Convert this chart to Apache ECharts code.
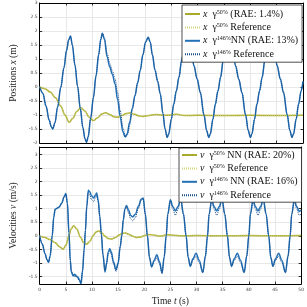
<!DOCTYPE html>
<html>
<head>
<meta charset="utf-8">
<script src="https://cdn.jsdelivr.net/npm/echarts@6/dist/echarts.min.js"></script>
<style>
  html, body { margin: 0; padding: 0; background: #fff; }
  #chart { width: 307px; height: 307px; }
</style>
</head>
<body>
<div id="chart"></div>
<script>
// positions x (m), gamma 50%  -- [t, x]
const posNN50 = [[0,0],[1,-0.06],[2,-0.18],[3,-0.38],[4,-0.68],[4.8,-1.0],[5.6,-1.26],[6.3,-1.12],[7.0,-0.88],[7.8,-0.74],[8.6,-0.86],[9.4,-1.08],[10.2,-1.2],[11.0,-1.1],[11.8,-0.96],[12.5,-0.92],[13.3,-0.98],[14.1,-1.06],[14.8,-1.08],[15.6,-1.02],[16.4,-0.95],[17.2,-0.93],[18.0,-0.97],[18.8,-1.03],[19.6,-1.05],[20.6,-1.02],[22,-0.98],[23.5,-1.01],[25,-1.0],[26,-0.97],[27.5,-1.02],[30,-1.01],[35,-1.02],[40,-1.01],[45,-1.02],[50,-1.01]];
const posRef50 = [[0,0],[1,-0.05],[2,-0.17],[3,-0.37],[4,-0.67],[4.8,-1.0],[5.6,-1.25],[6.3,-1.12],[7.0,-0.89],[7.8,-0.75],[8.6,-0.86],[9.4,-1.07],[10.2,-1.19],[11.0,-1.1],[11.8,-0.97],[12.5,-0.93],[13.3,-0.98],[14.1,-1.05],[14.8,-1.07],[15.6,-1.02],[16.4,-0.96],[17.2,-0.94],[18.0,-0.97],[18.8,-1.02],[19.6,-1.04],[20.6,-1.02],[22,-0.99],[23.5,-1.0],[25,-1.0],[26,-0.98],[27.5,-1.01],[30,-1.0],[35,-1.01],[40,-1.0],[45,-1.01],[50,-1.0]];

// positions x (m), gamma 146%
const posNN146 = [[0,0],[0.6,-0.22],[1.2,-0.68],[1.8,-1.18],[2.2,-1.42],[2.5,-1.5],[2.9,-1.28],[3.4,-0.72],[4.0,-0.02],[4.6,0.68],[5.1,1.3],[5.5,1.68],[5.85,1.82],[6.2,1.5],[6.7,0.78],[7.2,0.02],[7.7,-0.75],[8.2,-1.45],[8.6,-1.85],[8.9,-1.98],[9.2,-1.78],[9.7,-1.1],[10.2,-0.38],[10.7,0.4],[11.2,1.15],[11.6,1.7],[11.9,1.92],[12.3,1.7],[12.8,1.08],[13.3,0.72],[13.8,0.45],[14.3,0.12],[14.8,-0.45],[15.3,-1.08],[15.8,-1.6],[16.2,-1.77],[16.6,-1.68],[17.1,-1.25],[17.6,-0.75],[18.1,-0.3],[18.6,0.15],[19.1,0.6],[19.6,1.15],[20.1,1.6],[20.6,1.78],[21.0,1.6],[21.4,1.15],[21.9,0.6],[22.4,0.2],[22.9,-0.25],[23.4,-0.95],[23.8,-1.5],[24.2,-1.8],
  [24.5,-1.68],[25.0,-1.15],[25.45,-0.62],[25.95,-0.14],[26.45,0.35],[26.95,0.95],[27.5,1.58],[28.0,1.82],[28.4,1.65],[28.8,1.25],[29.3,0.75],[29.9,0.28],[30.5,-0.2],[31.2,-1.0],[31.7,-1.55],[32.1,-1.8],
  [32.4,-1.68],[32.9,-1.15],[33.35,-0.62],[33.85,-0.14],[34.35,0.35],[34.85,0.95],[35.4,1.58],[35.9,1.82],[36.3,1.65],[36.7,1.25],[37.2,0.75],[37.8,0.28],[38.4,-0.2],[39.1,-1.0],[39.6,-1.55],[40.0,-1.8],
  [40.3,-1.68],[40.8,-1.15],[41.25,-0.62],[41.75,-0.14],[42.25,0.35],[42.75,0.95],[43.3,1.58],[43.8,1.82],[44.2,1.65],[44.6,1.25],[45.1,0.75],[45.7,0.28],[46.3,-0.2],[47.0,-1.0],[47.5,-1.55],[47.9,-1.8],
  [48.2,-1.68],[48.7,-1.15],[49.15,-0.62],[49.65,-0.14],[50,0.2]];
const posRef146 = [[0,0],[0.6,-0.22],[1.2,-0.68],[1.8,-1.18],[2.2,-1.42],[2.5,-1.5],[2.9,-1.28],[3.4,-0.72],[4.0,-0.02],[4.6,0.68],[5.1,1.3],[5.5,1.68],[5.85,1.82],[6.2,1.5],[6.7,0.78],[7.2,0.02],[7.7,-0.75],[8.2,-1.45],[8.6,-1.85],[8.9,-1.98],[9.2,-1.78],[9.7,-1.1],[10.2,-0.38],[10.7,0.4],[11.2,1.15],[11.6,1.7],[11.9,1.92],[12.3,1.75],[12.8,1.2],[13.3,0.85],[13.8,0.58],[14.3,0.3],[14.8,-0.2],[15.3,-0.85],[15.8,-1.45],[16.3,-1.8],[16.7,-1.7],[17.1,-1.35],[17.6,-0.8],[18.1,-0.32],[18.6,0.14],[19.1,0.6],[19.6,1.15],[20.1,1.6],[20.6,1.78],[21.0,1.6],[21.4,1.15],[21.9,0.62],[22.4,0.22],[22.9,-0.22],[23.4,-0.92],[23.8,-1.48],[24.2,-1.8],
  [24.5,-1.68],[25.0,-1.15],[25.45,-0.62],[25.95,-0.14],[26.45,0.35],[26.95,0.95],[27.5,1.58],[28.0,1.82],[28.4,1.65],[28.8,1.26],[29.3,0.77],[29.9,0.3],[30.5,-0.18],[31.2,-0.98],[31.7,-1.55],[32.1,-1.8],
  [32.4,-1.68],[32.9,-1.15],[33.35,-0.62],[33.85,-0.14],[34.35,0.35],[34.85,0.95],[35.4,1.58],[35.9,1.82],[36.3,1.65],[36.7,1.26],[37.2,0.77],[37.8,0.3],[38.4,-0.18],[39.1,-0.98],[39.6,-1.55],[40.0,-1.8],
  [40.3,-1.68],[40.8,-1.15],[41.25,-0.62],[41.75,-0.14],[42.25,0.35],[42.75,0.95],[43.3,1.58],[43.8,1.82],[44.2,1.65],[44.6,1.26],[45.1,0.77],[45.7,0.3],[46.3,-0.18],[47.0,-0.98],[47.5,-1.55],[47.9,-1.8],
  [48.2,-1.68],[48.7,-1.15],[49.15,-0.62],[49.65,-0.14],[50,0.2]];

// velocities v (m/s), gamma 50%
const velNN50 = [[0,0],[1,-0.06],[2,-0.14],[3,-0.26],[3.8,-0.4],[4.5,-0.5],[5.0,-0.35],[5.6,0.0],[6.0,0.25],[6.5,0.37],[7.1,0.25],[7.8,-0.05],[8.4,-0.25],[9.0,-0.31],[9.6,-0.2],[10.2,0.0],[10.8,0.14],[11.3,0.18],[11.9,0.1],[12.5,-0.02],[13.1,-0.1],[13.8,-0.12],[14.5,-0.06],[15.2,0.03],[15.9,0.09],[16.4,0.1],[17.1,0.05],[17.8,-0.02],[18.5,-0.06],[19.3,-0.04],[20.2,0.02],[21.0,0.05],[22.0,0.02],[23,-0.01],[24.5,0.04],[25.5,0.02],[27,0.0],[30,0.01],[35,0.0],[40,0.01],[45,0.0],[50,0.01]];
const velRef50 = [[0,0],[1,-0.05],[2,-0.13],[3,-0.25],[3.8,-0.39],[4.5,-0.49],[5.0,-0.35],[5.6,0.0],[6.0,0.24],[6.5,0.36],[7.1,0.25],[7.8,-0.04],[8.4,-0.24],[9.0,-0.3],[9.6,-0.2],[10.2,0.0],[10.8,0.13],[11.3,0.17],[11.9,0.1],[12.5,-0.02],[13.1,-0.09],[13.8,-0.11],[14.5,-0.06],[15.2,0.03],[15.9,0.08],[16.4,0.09],[17.1,0.05],[17.8,-0.02],[18.5,-0.05],[19.3,-0.04],[20.2,0.02],[21.0,0.04],[22.0,0.02],[23,0.0],[24.5,0.03],[25.5,0.02],[27,0.0],[30,0.0],[35,0.0],[40,0.0],[45,0.0],[50,0.0]];

// velocities v (m/s), gamma 146%
const velNN146 = [[0,0],[0.5,-0.3],[1.0,-0.65],[1.4,-0.88],[1.7,-0.98],[2.0,-0.75],[2.4,0.0],[2.7,0.7],[2.95,0.98],[3.3,1.02],[3.7,1.06],[4.2,1.2],[4.7,1.45],[5.0,1.56],[5.3,1.2],[5.6,0.1],[5.85,-0.9],[6.05,-1.34],[6.4,-1.48],[6.7,-1.42],[7.0,-1.5],[7.3,-1.52],[7.6,-1.62],[7.9,-1.77],[8.2,-1.3],[8.5,-0.5],[8.75,0.2],[9.0,1.1],[9.3,1.68],[9.6,1.62],[9.9,1.48],[10.3,1.4],[10.7,1.52],[10.9,1.58],[11.2,1.3],[11.5,0.7],[11.8,0.05],[12.1,-0.7],[12.5,-1.34],[12.8,-1.0],[13.1,-0.6],[13.4,-0.48],[13.7,-0.6],[14.1,-0.95],[14.6,-1.25],[15.0,-1.0],[15.4,-0.4],[15.7,0.0],[16.0,0.6],[16.3,1.0],[16.6,1.12],[17.0,0.95],[17.4,0.75],[17.8,0.7],[18.3,0.8],[18.9,1.1],[19.4,1.35],[19.8,1.4],[20.2,0.8],[20.6,0.0],[21.0,-0.8],[21.4,-1.15],[21.9,-0.9],[22.4,-0.7],[22.9,-0.95],[23.4,-1.37],[23.8,-0.8],[24.2,0.0],
  [24.5,0.8],[25.0,1.33],[25.45,1.08],[25.95,0.92],[26.45,1.08],[26.95,1.37],[27.5,0.8],[28.0,0.0],[28.4,-0.8],[28.8,-1.12],[29.3,-0.85],[29.9,-0.64],[30.5,-0.9],[31.2,-1.35],[31.7,-0.75],[32.1,0.0],
  [32.4,0.8],[32.9,1.33],[33.35,1.08],[33.85,0.92],[34.35,1.08],[34.85,1.37],[35.4,0.8],[35.9,0.0],[36.3,-0.8],[36.7,-1.12],[37.2,-0.85],[37.8,-0.64],[38.4,-0.9],[39.1,-1.35],[39.6,-0.75],[40.0,0.0],
  [40.3,0.8],[40.8,1.33],[41.25,1.08],[41.75,0.92],[42.25,1.08],[42.75,1.37],[43.3,0.8],[43.8,0.0],[44.2,-0.8],[44.6,-1.12],[45.1,-0.85],[45.7,-0.64],[46.3,-0.9],[47.0,-1.35],[47.5,-0.75],[47.9,0.0],
  [48.2,0.8],[48.7,1.33],[49.15,1.08],[49.65,0.9],[50,0.95]];
const velRef146 = [[0,0],[0.5,-0.3],[1.0,-0.65],[1.4,-0.88],[1.7,-0.98],[2.0,-0.75],[2.4,0.0],[2.7,0.7],[2.95,0.96],[3.3,1.0],[3.7,1.05],[4.2,1.18],[4.7,1.43],[5.0,1.54],[5.3,1.2],[5.6,0.1],[5.85,-0.9],[6.05,-1.3],[6.4,-1.42],[6.7,-1.5],[7.0,-1.44],[7.3,-1.58],[7.6,-1.68],[7.9,-1.75],[8.2,-1.3],[8.5,-0.5],[8.75,0.2],[9.0,1.05],[9.3,1.6],[9.6,1.5],[9.9,1.34],[10.3,1.26],[10.7,1.42],[10.9,1.5],[11.2,1.25],[11.5,0.7],[11.8,0.05],[12.1,-0.7],[12.5,-1.3],[12.8,-1.05],[13.1,-0.68],[13.4,-0.58],[13.7,-0.68],[14.1,-1.02],[14.6,-1.32],[15.0,-1.05],[15.4,-0.4],[15.7,0.0],[16.0,0.58],[16.3,0.95],[16.6,1.05],[17.0,0.85],[17.4,0.62],[17.8,0.55],[18.3,0.68],[18.9,1.02],[19.4,1.3],[19.8,1.36],[20.2,0.8],[20.6,0.0],[21.0,-0.8],[21.4,-1.15],[21.9,-0.95],[22.4,-0.82],[22.9,-1.02],[23.4,-1.4],[23.8,-0.8],[24.2,0.0],
  [24.5,0.8],[25.0,1.3],[25.45,0.98],[25.95,0.76],[26.45,0.98],[26.95,1.34],[27.5,0.8],[28.0,0.0],[28.4,-0.8],[28.8,-1.14],[29.3,-0.9],[29.9,-0.76],[30.5,-0.98],[31.2,-1.37],[31.7,-0.75],[32.1,0.0],
  [32.4,0.8],[32.9,1.3],[33.35,0.98],[33.85,0.76],[34.35,0.98],[34.85,1.34],[35.4,0.8],[35.9,0.0],[36.3,-0.8],[36.7,-1.14],[37.2,-0.9],[37.8,-0.76],[38.4,-0.98],[39.1,-1.37],[39.6,-0.75],[40.0,0.0],
  [40.3,0.8],[40.8,1.3],[41.25,0.98],[41.75,0.76],[42.25,0.98],[42.75,1.34],[43.3,0.8],[43.8,0.0],[44.2,-0.8],[44.6,-1.14],[45.1,-0.9],[45.7,-0.76],[46.3,-0.98],[47.0,-1.37],[47.5,-0.75],[47.9,0.0],
  [48.2,0.8],[48.7,1.3],[49.15,0.98],[49.65,0.76],[50,0.82]];

const posLegend = {
  x50nn: '{i|x}  γ{s|50%} (RAE: 1.4%)',
  x50ref: '{i|x}  γ{s|50%} Reference',
  x146nn: '{i|x}  γ{s|146%}NN (RAE: 13%)',
  x146ref: '{i|x}  γ{s|146%} Reference'
};
const velLegend = {
  v50nn: '{i|v}  γ{s|50%} NN (RAE: 20%)',
  v50ref: '{i|v}  γ{s|50%} Reference',
  v146nn: '{i|v}  γ{s|146%} NN (RAE: 16%)',
  v146ref: '{i|v}  γ{s|146%} Reference'
};

const YELLOW = '#a9aa2c';
const YELLOW_REF = '#d3d67e';
const BLUE = '#2270b5';
const BLUE_REF = '#1b4f8c';
const SERIF = 'Liberation Serif';

const chart = echarts.init(document.getElementById('chart'));

const labelStyle = { fontSize: 4.5, color: '#444', fontFamily: 'DejaVu Sans' };
const tickIn = { show: true, inside: true, length: 2.5, lineStyle: { color: '#000', width: 0.8 } };
const frameLine = { show: true, onZero: false, lineStyle: { color: '#000', width: 1 } };
const grid = { show: true, lineStyle: { color: '#e2e2e2', width: 0.8 } };
const titleStyle = { fontFamily: SERIF, fontSize: 9.5, color: '#222', rich: { i: { fontFamily: SERIF, fontSize: 9.5, fontStyle: 'italic', color: '#222' } } };

function xAxes(gi, labels) {
  return [
    { type: 'value', gridIndex: gi, min: 0, max: 50, interval: 5, position: 'bottom',
      axisLine: frameLine, axisTick: tickIn, splitLine: grid,
      axisLabel: { show: labels, margin: 3, ...labelStyle },
      name: labels ? 'Time {i|t} (s)' : '', nameLocation: 'middle', nameGap: 12, nameTextStyle: titleStyle },
    { type: 'value', gridIndex: gi, min: 0, max: 50, interval: 5, position: 'top',
      axisLine: frameLine, axisTick: tickIn, splitLine: { show: false }, axisLabel: { show: false } }
  ];
}
function yAxes(gi, min, max, title) {
  return [
    { type: 'value', gridIndex: gi, min: min, max: max, position: 'left',
      axisLine: frameLine, axisTick: tickIn, splitLine: grid, splitNumber: 10,
      axisLabel: { margin: 2, showMinLabel: min % 0.5 === 0, showMaxLabel: max % 0.5 === 0, ...labelStyle },
      name: title, nameLocation: 'middle', nameGap: 15, nameTextStyle: titleStyle },
    { type: 'value', gridIndex: gi, min: min, max: max, position: 'right', splitNumber: 10,
      axisLine: frameLine, axisTick: tickIn, splitLine: { show: false }, axisLabel: { show: false } }
  ];
}

function line(name, data, xi, yi, color, dotted, width) {
  return {
    name: name, type: 'line', data: data, xAxisIndex: xi, yAxisIndex: yi,
    showSymbol: false, symbol: 'none', smooth: 0.35, smoothMonotone: 'x',
    lineStyle: { color: color, width: width, type: dotted ? [1, 1] : 'solid' },
    itemStyle: { color: color }, animation: false, z: dotted ? 3 : 2
  };
}

const legendRich = {
  i: { fontFamily: SERIF, fontSize: 10, fontStyle: 'italic', color: '#111' },
  s: { fontFamily: SERIF, fontSize: 6, color: '#111', verticalAlign: 'top', lineHeight: 9, padding: [0, 0, 4, 0] }
};
function legend(names, map, left, top, pad) {
  return {
    data: names, orient: 'vertical', left: left, top: top,
    itemWidth: 15, itemHeight: 8, itemGap: 3.4,
    itemStyle: { opacity: 0 },
    backgroundColor: '#fff', borderColor: '#222', borderWidth: 0.8, borderRadius: 0,
    padding: pad,
    textStyle: { fontFamily: SERIF, fontSize: 10, color: '#111', padding: [0, 0, 0, -2], rich: legendRich },
    formatter: n => map[n]
  };
}

chart.setOption({
  animation: false,
  backgroundColor: '#fff',
  grid: [
    { left: 23, top: 3, width: 280, height: 140 },
    { left: 23, top: 147, width: 280, height: 138 }
  ],
  xAxis: [...xAxes(0, false), ...xAxes(1, true)],
  yAxis: [...yAxes(0, -2, 3, 'Positions {i|x} (m)'), ...yAxes(1, -1.78, 3.28, 'Velocities {i|v} (m/s)')],
  legend: [
    legend(Object.keys(posLegend), posLegend, 182, 5, [4, 4, 3, 2]),
    legend(Object.keys(velLegend), velLegend, 179, 148, [2, 4, 2, 2])
  ],
  series: [
    line('x50nn', posNN50, 0, 0, YELLOW, false, 1.5),
    line('x50ref', posRef50, 0, 0, YELLOW_REF, true, 1),
    line('x146nn', posNN146, 0, 0, BLUE, false, 1.5),
    line('x146ref', posRef146, 0, 0, BLUE_REF, true, 1),
    line('v50nn', velNN50, 2, 2, YELLOW, false, 1.5),
    line('v50ref', velRef50, 2, 2, YELLOW_REF, true, 1),
    line('v146nn', velNN146, 2, 2, BLUE, false, 1.5),
    line('v146ref', velRef146, 2, 2, BLUE_REF, true, 1)
  ]
});
</script>
</body>
</html>
